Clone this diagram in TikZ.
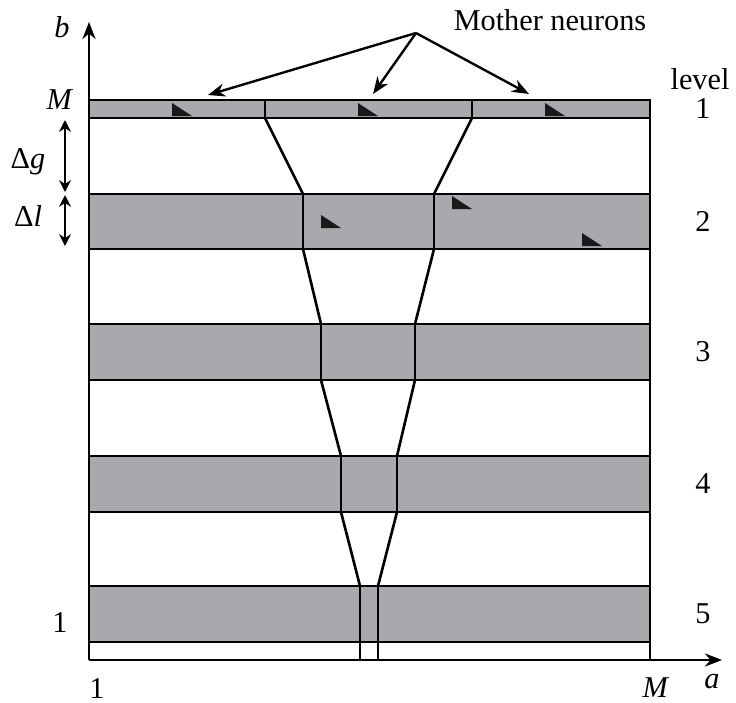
\documentclass[tikz,border=0pt]{standalone}
\usepackage{fontspec}
\setmainfont{Liberation Serif}
\usetikzlibrary{arrows.meta}

\definecolor{bandgray}{RGB}{168,169,173}
\tikzset{
  band/.style={fill=bandgray, draw=black, line width=1pt},
  wall/.style={line width=1pt},
  tick/.style={fill=black!90, draw=none},
  lbl/.style={font=\fontsize{11.5}{13}\selectfont, inner sep=0pt},
  tip/.style={-{Stealth[length=6.5pt,width=5pt]}, line width=0.9pt},
  dbl/.style={{Stealth[length=4.5pt,width=4.5pt]}-{Stealth[length=4.5pt,width=4.5pt]}, line width=0.9pt},
}

\begin{document}
\begin{tikzpicture}[x=0.38pt, y=-0.38pt]
  \useasboundingbox (0,0) rectangle (736,702);
  % levels: band, dividers, level number
  \foreach \lv/\yt/\yb/\xl/\xr in {1/100/118/265/472, 2/194/249/303/434,
      3/324/380/321/415, 4/456/512/341/397, 5/586/642/360/378} {
    \draw[band] (89,\yt) rectangle (650,\yb);
    \coordinate (lt\lv) at (\xl,\yt);
    \coordinate (lb\lv) at (\xl,\yb);
    \coordinate (rt\lv) at (\xr,\yt);
    \coordinate (rb\lv) at (\xr,\yb);
    \draw[wall] (lt\lv) -- (lb\lv);
    \draw[wall] (rt\lv) -- (rb\lv);
    \node[lbl] (lv\lv) at (703,{(\yt+\yb)/2}) {\lv};
  }
  % funnel between levels
  \foreach \lv/\nx in {1/2, 2/3, 3/4, 4/5} {
    \draw[wall] (lb\lv) -- (lt\nx);
    \draw[wall] (rb\lv) -- (rt\nx);
  }
  \coordinate (lend) at (360,660);
  \coordinate (rend) at (378,660);
  \draw[wall] (lb5) -- (lend);
  \draw[wall] (rb5) -- (rend);
  % frame and axes
  \coordinate (o) at (89,660);
  \coordinate (xend) at (722,660);
  \coordinate (yend) at (89,22);
  \coordinate (frt) at (650,100);
  \coordinate (frb) at (650,660);
  \draw[wall] (frt) -- (frb);
  \draw[tip] (o) -- (xend);
  \draw[tip] (o) -- (yend);
  % neurons
  \foreach \x/\y in {172/103, 358/103, 545/103, 321/215, 452/196, 582/233} {
    \fill[tick] (\x,\y) -- (\x,\y+13) -- (\x+20,\y+13) -- cycle;
  }
  % labels
  \node[lbl] (mn) at (550,20) {Mother neurons};
  \coordinate (apex) at (416,33);
  \coordinate (n1) at (208,95);
  \coordinate (n2) at (373,94);
  \coordinate (n3) at (529,94);
  \draw[tip] (apex) -- (n1);
  \draw[tip] (apex) -- (n2);
  \draw[tip] (apex) -- (n3);
  \node[lbl] (lvl) at (700,79) {level};
  \node[lbl] (bl) at (62,27) {\textit{b}};
  \node[lbl] (mtop) at (60,100) {\textit{M}};
  \node[lbl] (onel) at (60,622) {1};
  \node[lbl] (oneb) at (97,688) {1};
  \node[lbl] (mright) at (656,688) {\textit{M}};
  \node[lbl] (al) at (712,682) {\textit{a}};
  \node[lbl] (dgl) at (28,162) {Δ\textit{g}};
  \node[lbl] (dll) at (28,216) {Δ\textit{l}};
  \coordinate (gtop) at (65,120);
  \coordinate (gbot) at (65,192);
  \coordinate (ltop) at (65,195);
  \coordinate (lbot) at (65,246);
  \draw[dbl] (gtop) -- (gbot);
  \draw[dbl] (ltop) -- (lbot);
\end{tikzpicture}
\end{document}
